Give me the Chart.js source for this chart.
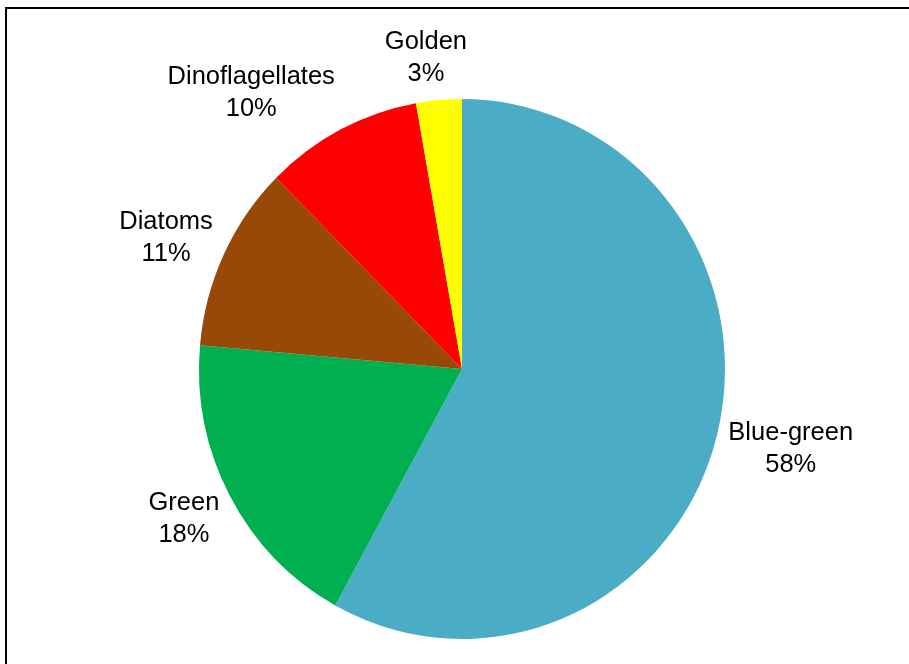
<!DOCTYPE html>
<html>
<head>
<meta charset="utf-8">
<script src="https://cdn.jsdelivr.net/npm/chart.js@4/dist/chart.umd.min.js"></script>
<style>
  html, body { margin: 0; padding: 0; background: #ffffff; }
  #wrap { position: relative; width: 909px; height: 664px; }
</style>
</head>
<body>
<div id="wrap"><canvas id="c" width="909" height="664"></canvas></div>
<script>
const categories = ["Blue-green", "Green", "Diatoms", "Dinoflagellates", "Golden"];
const shares = [58.0, 18.4, 11.1, 9.7, 2.8];
const sliceColors = ["#4BACC6", "#00B050", "#984807", "#FF0000", "#FFFF00"];

const FONT = "25.5px 'Liberation Sans', Arial, sans-serif";
const LINE_H = 32;
const GAP = 12;
const STRETCH_Y = 270 / 263;

const framePlugin = {
  id: 'frame',
  beforeDraw(chart) {
    const ctx = chart.ctx;
    ctx.save();
    ctx.fillStyle = '#ffffff';
    ctx.fillRect(0, 0, chart.width, chart.height);
    ctx.fillStyle = '#000000';
    ctx.fillRect(5, 7, chart.width, 2);
    ctx.fillRect(5, 7, 2, chart.height);
    ctx.restore();
  }
};

const pieLookPlugin = {
  id: 'pieLook',
  beforeDatasetsDraw(chart) {
    const arc = chart.getDatasetMeta(0).data[0];
    const ctx = chart.ctx;
    ctx.save();
    ctx.translate(arc.x, arc.y);
    ctx.scale(1, STRETCH_Y);
    ctx.translate(-arc.x, -arc.y);
  },
  afterDatasetsDraw(chart) {
    const ctx = chart.ctx;
    ctx.restore();
    const meta = chart.getDatasetMeta(0);
    const data = chart.data.datasets[0].data;
    const total = data.reduce((a, b) => a + b, 0);
    ctx.save();
    ctx.font = FONT;
    ctx.fillStyle = '#000000';
    ctx.textAlign = 'center';
    ctx.textBaseline = 'middle';
    meta.data.forEach((a, i) => {
      const mid = (a.startAngle + a.endAngle) / 2;
      const ux = Math.cos(mid), uy = Math.sin(mid);
      const rx = a.outerRadius, ry = a.outerRadius * STRETCH_Y;
      const px = a.x + ux * (rx + GAP);
      const py = a.y + uy * (ry + GAP);
      const l1 = chart.data.labels[i];
      const l2 = Math.round(data[i] / total * 100) + '%';
      const w = Math.max(ctx.measureText(l1).width, ctx.measureText(l2).width);
      const h = LINE_H * 2;
      const fx = Math.max(-1, Math.min(1, ux * 3.3));
      const bx = px + fx * w / 2;
      const by = py + uy * h / 2 + 2;
      ctx.fillText(l1, bx, by - LINE_H / 2);
      ctx.fillText(l2, bx, by + LINE_H / 2);
    });
    ctx.restore();
  }
};

new Chart(document.getElementById('c'), {
  type: 'pie',
  data: {
    labels: categories,
    datasets: [{
      data: shares,
      backgroundColor: sliceColors,
      borderWidth: 0,
      hoverOffset: 0
    }]
  },
  options: {
    responsive: false,
    maintainAspectRatio: false,
    animation: false,
    events: [],
    layout: { padding: { left: 199, right: 184, top: 106, bottom: 32 } },
    plugins: {
      legend: { display: false },
      tooltip: { enabled: false },
      title: { display: false }
    }
  },
  plugins: [framePlugin, pieLookPlugin]
});
</script>
</body>
</html>
